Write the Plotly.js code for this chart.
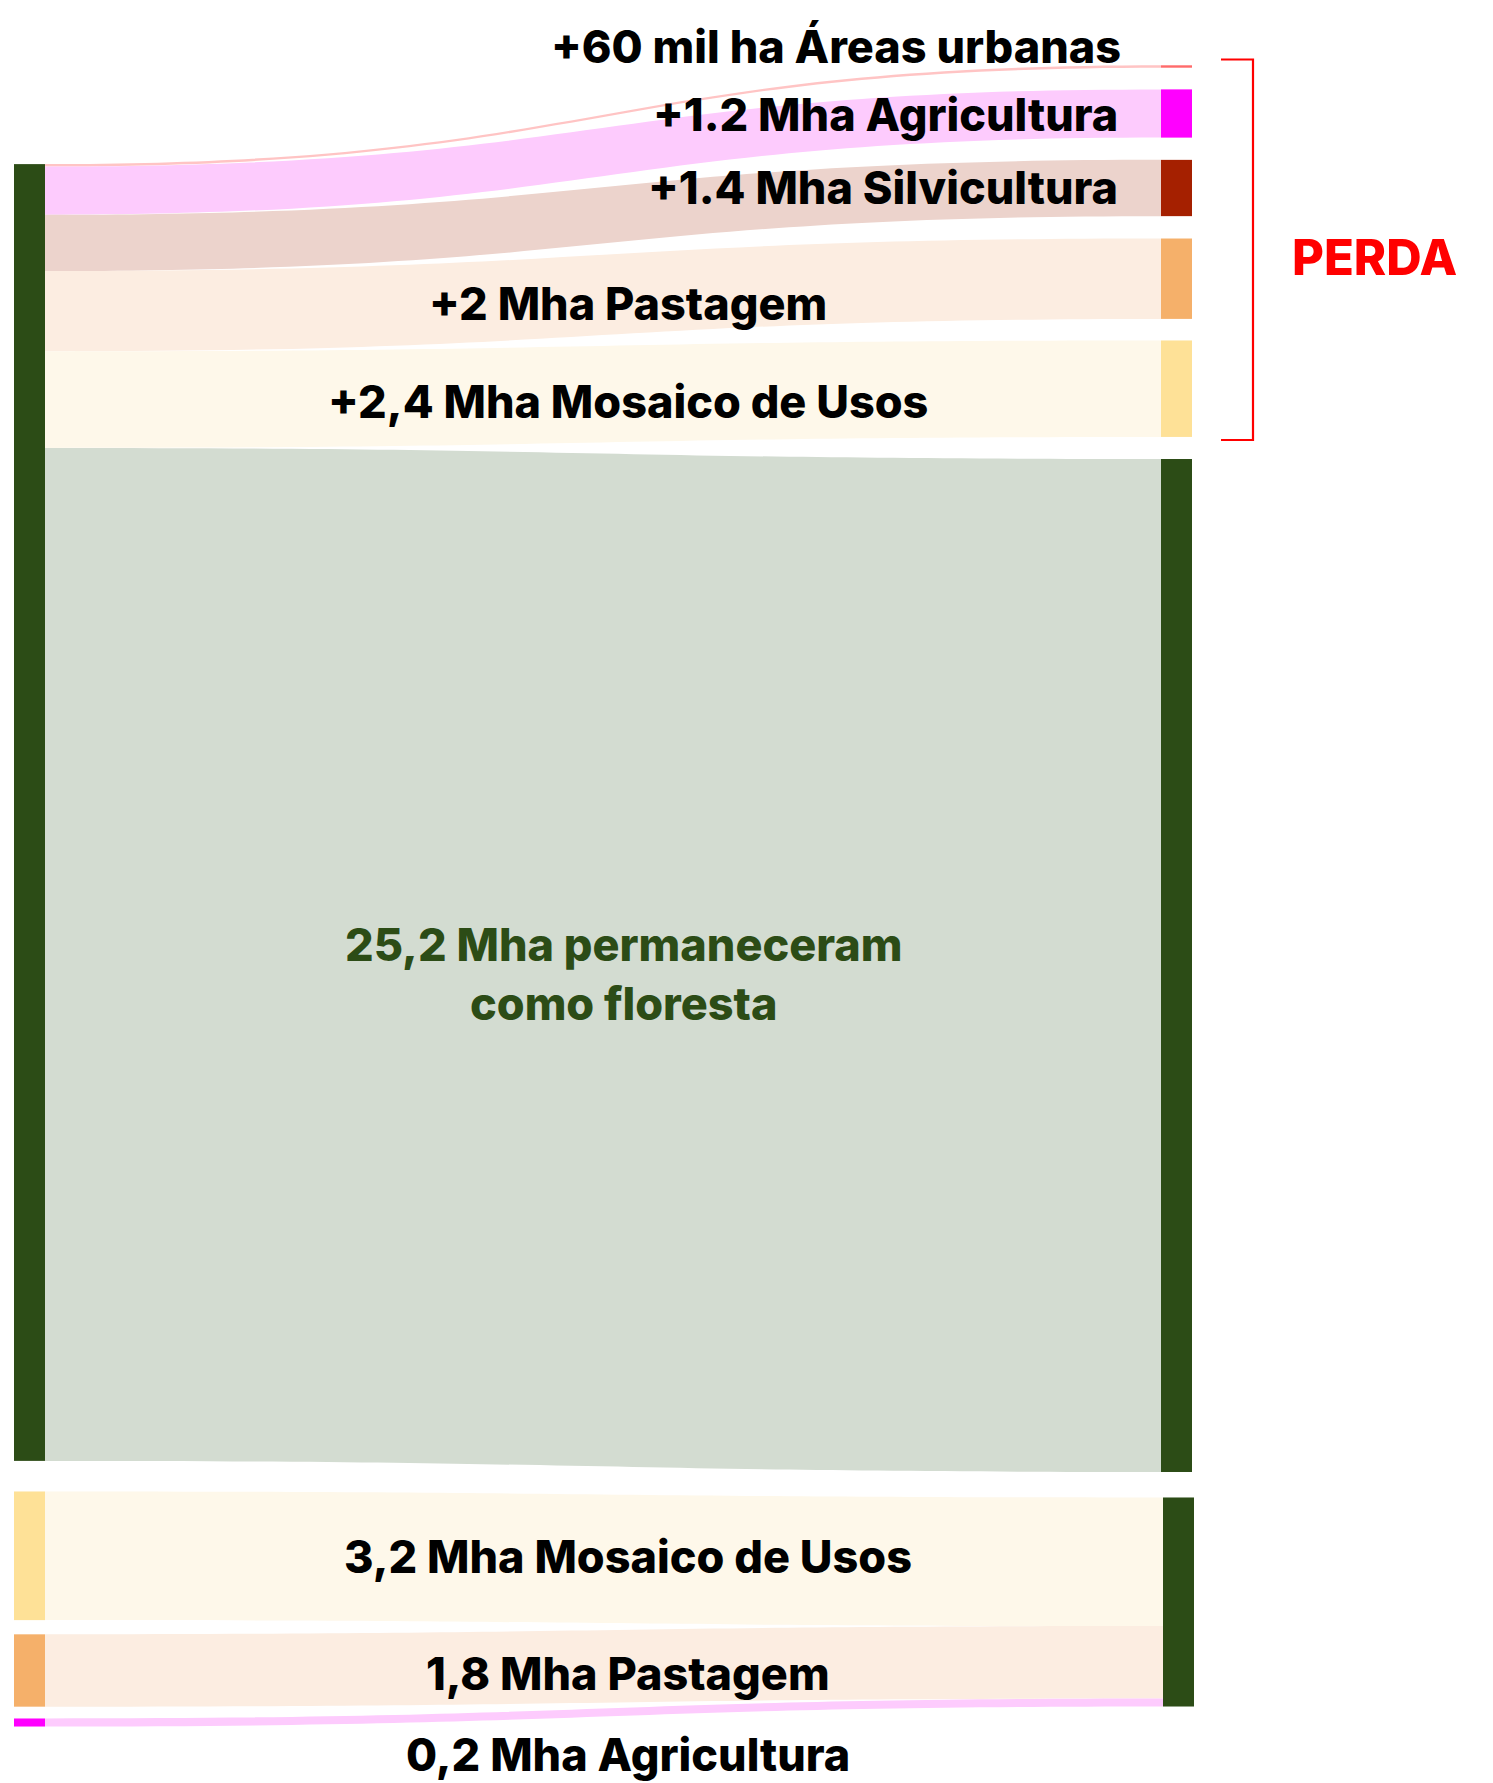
<!DOCTYPE html>
<html>
<head>
<meta charset="utf-8">
<script src="https://cdn.plot.ly/plotly-3.0.1.min.js"></script>
<style>html,body{margin:0;padding:0;background:#fff;}#chart{width:1493px;height:1783px;}</style>
</head>
<body>
<div id="chart"></div>
<script>
// ---- data ----
const nodeNames = [
  "Floresta", "Mosaico de Usos", "Pastagem", "Agricultura",
  "Áreas urbanas", "Agricultura", "Silvicultura", "Pastagem", "Mosaico de Usos",
  "Floresta", "Floresta"
];
const linkSource = [0, 0, 0, 0, 0, 0, 1, 2, 3];
const linkTarget = [4, 5, 6, 7, 8, 9, 10, 10, 10];
const linkValues = [0.06, 1.2, 1.4, 2, 2.4, 25.2, 3.2, 1.8, 0.2];
const flowLabels = [
  "+60 mil ha Áreas urbanas", "+1.2 Mha Agricultura", "+1.4 Mha Silvicultura",
  "+2 Mha Pastagem", "+2,4 Mha Mosaico de Usos",
  "25,2 Mha permaneceram<br>como floresta",
  "3,2 Mha Mosaico de Usos", "1,8 Mha Pastagem", "0,2 Mha Agricultura"
];
const groupLabel = "PERDA";

// ---- styles / layout ----
const W = 1493, H = 1783;
const nodeColors = ["#2c4c16", "#fee197", "#f5b06a", "#ff00ff",
  "#ff6b6b", "#ff00ff", "#a52000", "#f5b06a", "#fee197", "#2c4c16", "#2c4c16"];
const linkColors = ["#ffc4c4", "#fdcbfd", "#ecd3cc", "#fcede1", "#fef8ea",
  "#d3dcd1", "#fef8ea", "#fcede1", "#fdcbfd"];
// node centre positions in pixels (layout only)
const nodeXpx = [29.5, 29.5, 29.5, 29.5, 1176.5, 1176.5, 1176.5, 1176.5, 1176.5, 1176.5, 1178.5];
const nodeYpx = [812.5, 1555.8, 1670.5, 1722.5, 66.5, 113.5, 188, 278.7, 388.7, 965.5, 1602];

const font = "Inter, 'Open Sans', sans-serif";
const fs = 45;
// label placement (px): [x, baselineY, anchor, color]
const labelPos = [
  [1123, 63, "right", "#000"],
  [1120, 131, "right", "#000"],
  [1120, 204, "right", "#000"],
  [628, 320, "center", "#000"],
  [628, 418, "center", "#000"],
  [623, 974, "center", "#2c4c16"],
  [628, 1573, "center", "#000"],
  [628, 1690, "center", "#000"],
  [628, 1771, "center", "#000"]
];

const px = x => x / W;
const py = y => 1 - y / H;

const annotations = flowLabels.map((t, i) => {
  const p = labelPos[i];
  const isTwo = t.indexOf("<br>") >= 0;
  return {
    text: t, xref: "paper", yref: "paper",
    x: px(p[0]), y: py(isTwo ? p[1] : p[1] - fs * 0.36),
    xanchor: p[2], yanchor: "middle", showarrow: false, align: "center",
    font: {family: font, size: fs, color: p[3], weight: 800}
  };
});
annotations.push({
  text: groupLabel, xref: "paper", yref: "paper",
  x: px(1374.5), y: py(275 - 49 * 0.36), xanchor: "center", yanchor: "middle",
  showarrow: false, font: {family: font, size: 49, color: "#ff0000", weight: 800}
});

const data = [{
  type: "sankey",
  arrangement: "fixed",
  domain: {x: [0, 1], y: [0, 1]},
  node: {
    label: nodeNames.map(() => ""),
    customdata: nodeNames,
    hovertemplate: "%{customdata}: %{value} Mha<extra></extra>",
    color: nodeColors,
    pad: 46.2,
    thickness: 31,
    line: {width: 0},
    x: nodeXpx.map(v => v / W),
    y: nodeYpx.map(v => v / H)
  },
  link: {
    source: linkSource,
    target: linkTarget,
    value: linkValues,
    color: linkColors,
    line: {width: 0}
  }
}];

const layout = {
  width: W, height: H,
  margin: {l: 0, r: 0, t: 0, b: 0},
  paper_bgcolor: "#ffffff",
  showlegend: false,
  annotations: annotations,
  shapes: [{
    type: "path", xref: "paper", yref: "paper",
    path: `M ${px(1221)} ${py(59.5)} L ${px(1253)} ${py(59.5)} L ${px(1253)} ${py(440)} L ${px(1221)} ${py(440)}`,
    line: {color: "#ff0000", width: 2.2}
  }]
};

Plotly.newPlot("chart", data, layout, {displayModeBar: false, staticPlot: false});
</script>
</body>
</html>
